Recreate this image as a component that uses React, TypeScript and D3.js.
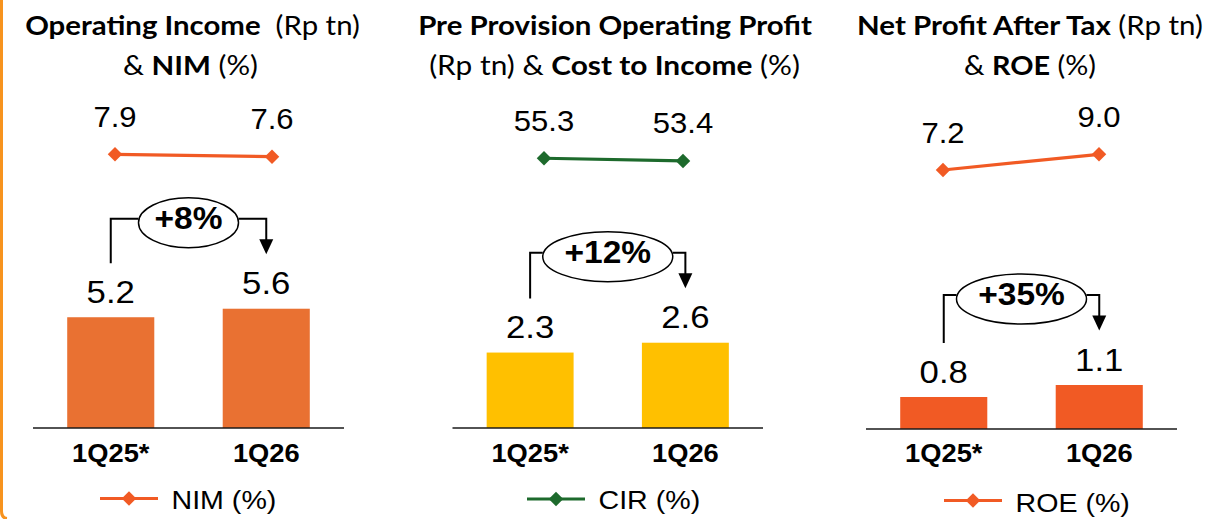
import React, { useLayoutEffect, useRef, useState } from "react";
import * as d3 from "d3";

// ---------- data ----------
const categories = ["1Q25*", "1Q26"];
const operatingIncome = [5.2, 5.6];
const nim = [7.9, 7.6];
const ppop = [2.3, 2.6];
const cir = [55.3, 53.4];
const npat = [0.8, 1.1];
const roe = [7.2, 9.0];
const growthLabels = ["+8%", "+12%", "+35%"];
const legendLabels = ["NIM (%)", "CIR (%)", "ROE (%)"];

type Seg = { t: string; b?: boolean };
const titleLines: Seg[][][] = [
  [
    [{ t: "Operating Income", b: true }, { t: "  (Rp tn)" }],
    [{ t: "& " }, { t: "NIM", b: true }, { t: " (%)" }],
  ],
  [
    [{ t: "Pre Provision Operating Profit", b: true }],
    [{ t: "(Rp tn) & " }, { t: "Cost to Income", b: true }, { t: " (%)" }],
  ],
  [
    [{ t: "Net Profit After Tax", b: true }, { t: " (Rp tn)" }],
    [{ t: "& " }, { t: "ROE", b: true }, { t: " (%)" }],
  ],
];

const W = 1216;
const H = 519;
const NUM_FONT = "'Liberation Sans', Arial, sans-serif";
const TITLE_FONT = "Lato, 'Open Sans', sans-serif";
const fmt = d3.format(".1f");

const panels = [
  {
    bars: operatingIncome, line: nim, growth: growthLabels[0], legend: legendLabels[0],
    barColor: "#E97132", lineColor: "#F15A24",
    axisX: [33, 344], baseY: 428, barMax: 6, barPx: 6 * 21.3,
    lineX: [115, 272], lineDomain: [0, 10], lineRange: [217.5, 137.5],
    titleCx: [192.5, 190.5], titleW: [335, 135],
    legendX: 100, legendY: 498.5, legendTextY: 508.5,
  },
  {
    bars: ppop, line: cir, growth: growthLabels[1], legend: legendLabels[1],
    barColor: "#FFC000", lineColor: "#1D6A2C",
    axisX: [452.5, 763], baseY: 428, barMax: 3, barPx: 3 * 32.8,
    lineX: [544, 683], lineDomain: [0, 100], lineRange: [236.8, 94.8],
    titleCx: [615, 614.5], titleW: [394, 371],
    legendX: 527, legendY: 499, legendTextY: 509,
  },
  {
    bars: npat, line: roe, growth: growthLabels[2], legend: legendLabels[2],
    barColor: "#F15A24", lineColor: "#F15A24",
    axisX: [866, 1177], baseY: 429, barMax: 1.5, barPx: 1.5 * 40,
    lineX: [943, 1099], lineDomain: [0, 10], lineRange: [232.8, 145.6],
    titleCx: [1030, 1030], titleW: [346, 132],
    legendX: 944, legendY: 500.5, legendTextY: 511.5,
  },
];

function FitText({ cx, y, width, children, style }: any) {
  const ref = useRef<SVGTextElement>(null);
  const [s, setS] = useState(1);
  useLayoutEffect(() => {
    if (ref.current) {
      const w = ref.current.getComputedTextLength();
      if (w > 0) setS(width / w);
    }
  }, [width]);
  return (
    <g transform={`translate(${cx},${y}) scale(${s},1)`}>
      <text ref={ref} x={0} y={0} textAnchor="middle" style={style}>
        {children}
      </text>
    </g>
  );
}

function SText({ x, y, sx = 1.1, anchor = "middle", size, bold, children, font = NUM_FONT }: any) {
  return (
    <g transform={`translate(${x},${y}) scale(${sx},1)`}>
      <text x={0} y={0} textAnchor={anchor} fontFamily={font} fontSize={size}
        fontWeight={bold ? "bold" : "normal"} fill="#000">
        {children}
      </text>
    </g>
  );
}

const diamond = d3.symbol(d3.symbolSquare, 105)();

function Panel({ p, i }: any) {
  const x = d3.scaleBand<string>().domain(categories).range(p.axisX as [number, number])
    .paddingInner(0.44).paddingOuter(0.22);
  const y = d3.scaleLinear().domain([0, p.barMax]).range([p.baseY, p.baseY - p.barPx]);
  const lx = d3.scalePoint<string>().domain(categories).range(p.lineX as [number, number]);
  const ly = d3.scaleLinear().domain(p.lineDomain).range(p.lineRange);
  const lineGen = d3.line<number>().x((_, j) => lx(categories[j])!).y((d) => ly(d));

  const c0 = x(categories[0])! + x.bandwidth() / 2;
  const c1 = x(categories[1])! + x.bandwidth() / 2;
  const top0 = y(p.bars[0]);
  const top1 = y(p.bars[1]);
  const bracketY = Math.min(top0, top1) - 90;
  const ecx = (c0 + c1) / 2;
  const ecy = bracketY + 4;
  const rx = 5 + 15 * p.growth.length;
  const ry = 25;
  const leftBottom = top0 - 54;
  const tipY = top1 - 54.5;

  return (
    <g>
      {/* title */}
      {titleLines[i].map((segs: Seg[], k: number) => (
        <FitText key={k} cx={p.titleCx[k]} y={k === 0 ? 35 : 75} width={p.titleW[k]}
          style={{ fontFamily: TITLE_FONT, fontSize: 27.5, whiteSpace: "pre", fill: "#000" }}>
          {segs.map((s, m) => (
            <tspan key={m} fontWeight={s.b ? "bold" : "normal"}>{s.t}</tspan>
          ))}
        </FitText>
      ))}

      {/* line series */}
      <path d={lineGen(p.line) || ""} fill="none" stroke={p.lineColor} strokeWidth={3.2} />
      {p.line.map((v: number, j: number) => (
        <g key={j}>
          <path d={diamond || ""} fill={p.lineColor}
            transform={`translate(${lx(categories[j])},${ly(v)}) rotate(45)`} />
          <SText x={lx(categories[j])} y={ly(v) - 27.5} size={29} sx={1.07}>{fmt(v)}</SText>
        </g>
      ))}

      {/* bars */}
      {p.bars.map((v: number, j: number) => (
        <g key={j}>
          <rect x={x(categories[j])} y={y(v)} width={x.bandwidth()} height={y(0) - y(v)} fill={p.barColor} />
          <SText x={x(categories[j])! + x.bandwidth() / 2} y={y(v) - 14.5} size={31} sx={1.12}>{fmt(v)}</SText>
          <SText x={x(categories[j])! + x.bandwidth() / 2} y={461.5} size={26} bold sx={1.05}>{categories[j]}</SText>
        </g>
      ))}
      <line x1={p.axisX[0]} x2={p.axisX[1]} y1={p.baseY} y2={p.baseY} stroke="#1a1a1a" strokeWidth={1.6} />

      {/* growth bracket */}
      <path d={`M${c0},${leftBottom} V${bracketY} H${ecx - rx}`} fill="none" stroke="#000" strokeWidth={2} />
      <path d={`M${ecx + rx},${bracketY} H${c1} V${tipY - 13}`} fill="none" stroke="#000" strokeWidth={2} />
      <path d={`M${c1 - 7},${tipY - 15} L${c1 + 7},${tipY - 15} L${c1},${tipY} Z`} fill="#000" />
      <ellipse cx={ecx} cy={ecy} rx={rx} ry={ry} fill="#fff" stroke="#000" strokeWidth={1.5} />
      <SText x={ecx} y={ecy + 6} size={31} bold sx={1.08}>{p.growth}</SText>

      {/* legend */}
      <line x1={p.legendX} x2={p.legendX + 58} y1={p.legendY} y2={p.legendY} stroke={p.lineColor} strokeWidth={3.2} />
      <path d={diamond || ""} fill={p.lineColor}
        transform={`translate(${p.legendX + 29},${p.legendY}) rotate(45)`} />
      <SText x={p.legendX + 71.5} y={p.legendTextY} size={26} anchor="start" sx={1.1}>{p.legend}</SText>
    </g>
  );
}

export default function App() {
  return (
    <svg width={W} height={H} viewBox={`0 0 ${W} ${H}`}
      style={{ position: "absolute", left: 0, top: 0, background: "#fff" }}>
      <defs>
        <linearGradient id="topBorder" x1="0" x2="1" y1="0" y2="0">
          <stop offset="0" stopColor="#F7931E" />
          <stop offset="1" stopColor="#FBB83A" />
        </linearGradient>
      </defs>
      <rect x={0} y={0} width={W} height={H} fill="#fff" />
      <path d={`M0,1 H${W}`} stroke="url(#topBorder)" strokeWidth={2} fill="none" />
      <path d={`M1.5,0 V511 Q1.5,518 7,518.5`} stroke="#F7931E" strokeWidth={3} fill="none" />
      {panels.map((p, i) => (
        <Panel key={i} p={p} i={i} />
      ))}
    </svg>
  );
}
